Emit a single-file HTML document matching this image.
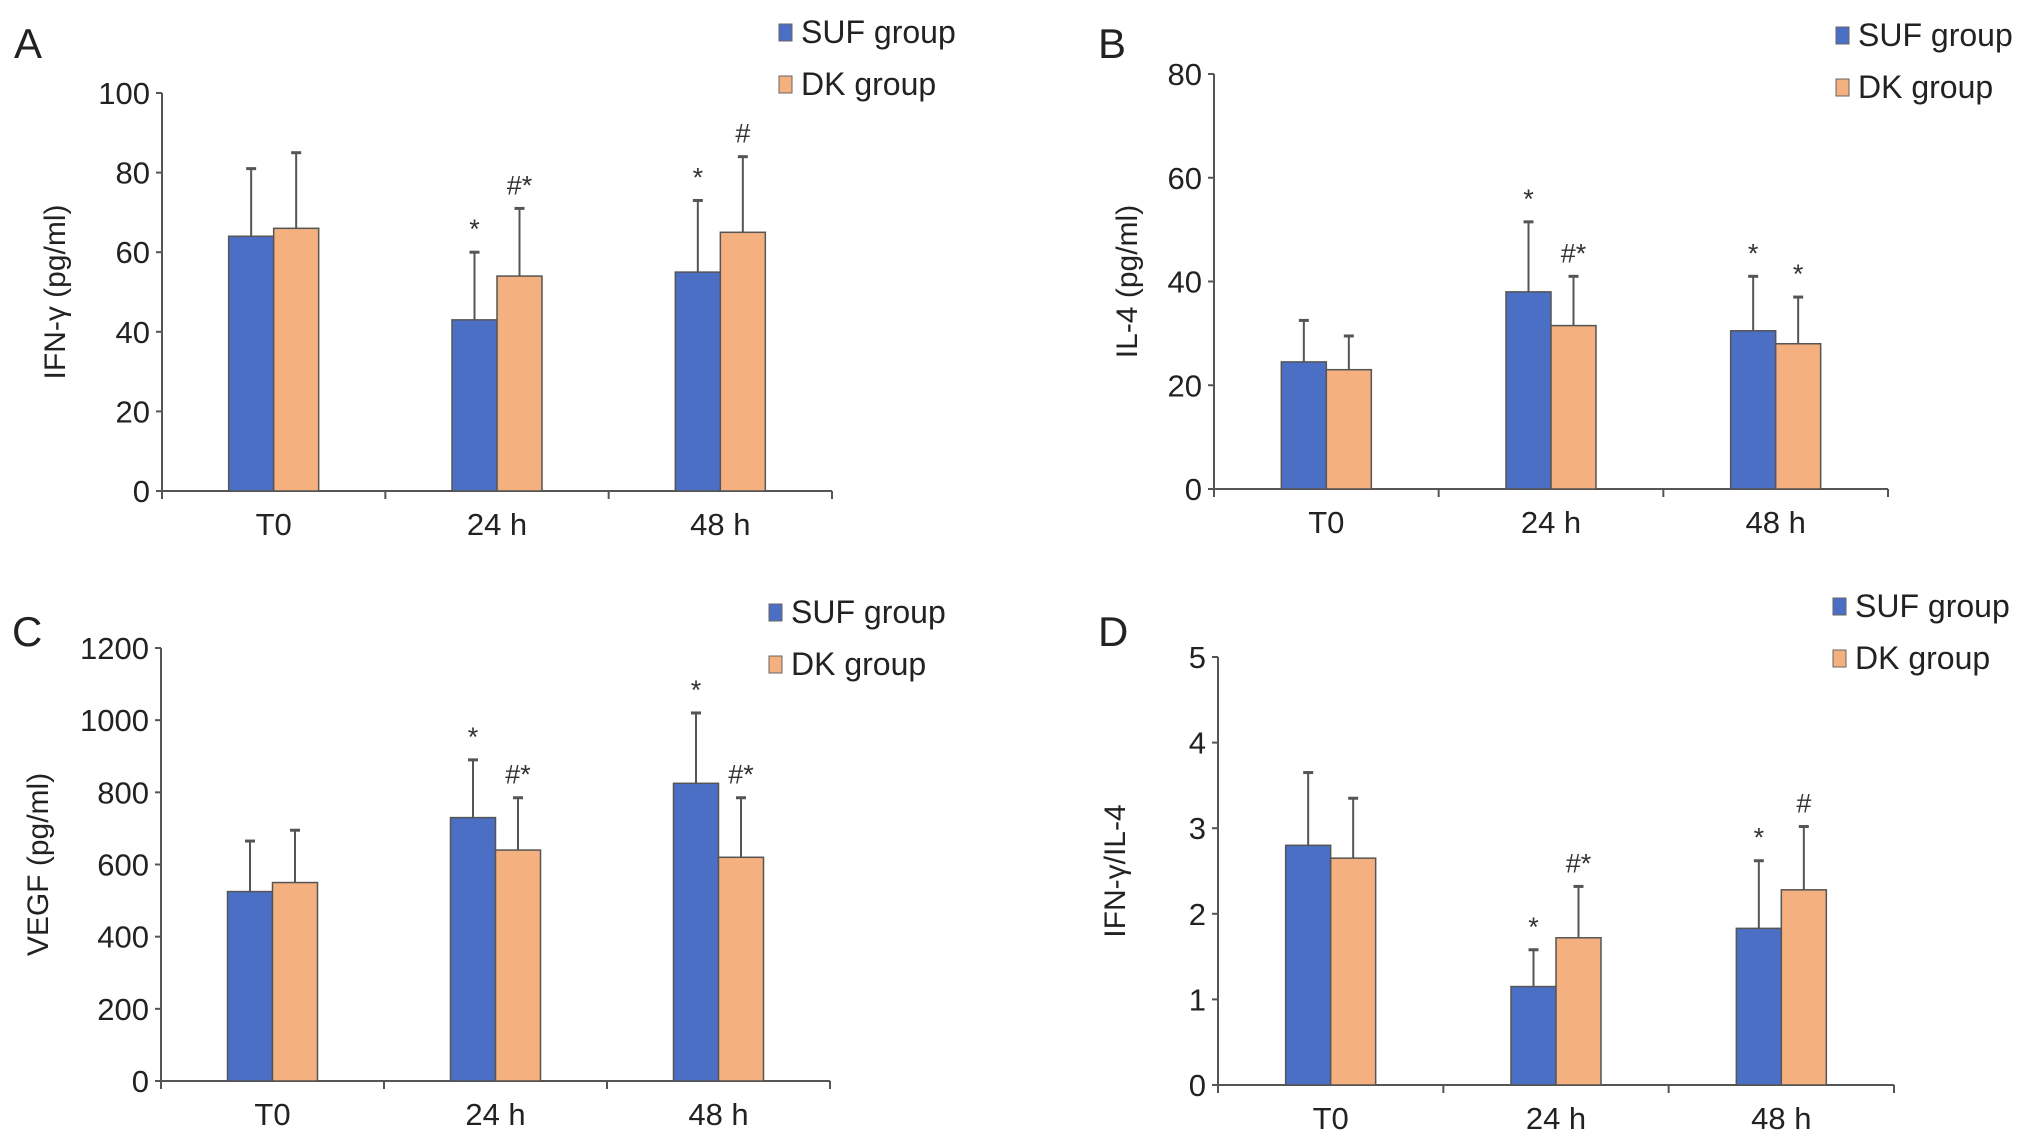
<!DOCTYPE html>
<html><head><meta charset="utf-8"><style>
body{margin:0;background:#fff}
svg{display:block;font-family:"Liberation Sans",sans-serif}
</style></head><body>
<svg id="fig" width="2032" height="1138" viewBox="0 0 2032 1138"></svg>
<script>
const categories = ["T0","24 h","48 h"];
const aSuf = [64,43,55], aDk = [66,54,65], aSufErr = [81,60,73], aDkErr = [85,71,84];
const aSufMark = ["","*","*"], aDkMark = ["","#*","#"];
const aTicks = [0,20,40,60,80,100];
const bSuf = [24.5,38,30.5], bDk = [23,31.5,28], bSufErr = [32.5,51.5,41], bDkErr = [29.5,41,37];
const bSufMark = ["","*","*"], bDkMark = ["","#*","*"];
const bTicks = [0,20,40,60,80];
const cSuf = [525,730,825], cDk = [550,640,620], cSufErr = [665,890,1020], cDkErr = [695,785,785];
const cSufMark = ["","*","*"], cDkMark = ["","#*","#*"];
const cTicks = [0,200,400,600,800,1000,1200];
const dSuf = [2.8,1.15,1.83], dDk = [2.65,1.72,2.28], dSufErr = [3.65,1.58,2.62], dDkErr = [3.35,2.32,3.02];
const dSufMark = ["","*","*"], dDkMark = ["","#*","#"];
const dTicks = [0,1,2,3,4,5];

const NS="http://www.w3.org/2000/svg";
const svg=document.getElementById('fig');
function mk(tag,attrs,parent,text){const e=document.createElementNS(NS,tag);for(const k in attrs)e.setAttribute(k,attrs[k]);if(text!==undefined)e.textContent=text;(parent||svg).appendChild(e);return e;}

const panels=[
 {id:"a",letter:"A",lx:14,ly:58,x0:162,x1:832,yTop:93,yBot:491,ticks:aTicks,title:"IFN-\u03b3 (pg/ml)",tx:55,legX:779,legY:32,suf:aSuf,dk:aDk,se:aSufErr,de:aDkErr,sm:aSufMark,dm:aDkMark},
 {id:"b",letter:"B",lx:1098,ly:58,x0:1214,x1:1888,yTop:74,yBot:489,ticks:bTicks,title:"IL-4 (pg/ml)",tx:1127,legX:1836,legY:35,suf:bSuf,dk:bDk,se:bSufErr,de:bDkErr,sm:bSufMark,dm:bDkMark},
 {id:"c",letter:"C",lx:12,ly:646,x0:161,x1:830,yTop:648,yBot:1081,ticks:cTicks,title:"VEGF (pg/ml)",tx:38,legX:769,legY:612,suf:cSuf,dk:cDk,se:cSufErr,de:cDkErr,sm:cSufMark,dm:cDkMark},
 {id:"d",letter:"D",lx:1098,ly:646,x0:1218,x1:1894,yTop:657,yBot:1085,ticks:dTicks,title:"IFN-\u03b3/IL-4",tx:1115,legX:1833,legY:606,suf:dSuf,dk:dDk,se:dSufErr,de:dDkErr,sm:dSufMark,dm:dDkMark}
];

panels.forEach(p=>{
 const g=mk('g',{});
 
 
 const max=p.ticks[p.ticks.length-1];
 const y=v=>p.yBot-(v/max)*(p.yBot-p.yTop);
 const gw=(p.x1-p.x0)/categories.length;
 const bw=45;
 const lab=mk('text',{x:p.lx,y:p.ly,'font-size':42,fill:'#222'},g,p.letter);
 
 
 const ya=mk('line',{x1:p.x0,y1:p.yTop,x2:p.x0,y2:p.yBot,stroke:'#555','stroke-width':2},g);
 
 
 p.ticks.forEach(t=>{
  mk('line',{x1:p.x0-6,y1:y(t),x2:p.x0,y2:y(t),stroke:'#555','stroke-width':2},g);
  const tl=mk('text',{x:p.x0-12,y:y(t)+11,'font-size':31,'text-anchor':'end',fill:'#222'},g,String(t));
  
  
 });
 const xa=mk('line',{x1:p.x0,y1:p.yBot,x2:p.x1,y2:p.yBot,stroke:'#555','stroke-width':2},g);
 
 
 for(let i=0;i<=categories.length;i++){mk('line',{x1:p.x0+i*gw,y1:p.yBot,x2:p.x0+i*gw,y2:p.yBot+8,stroke:'#555','stroke-width':2},g);}
 const ttl=mk('text',{x:p.tx,y:(p.yTop+p.yBot)/2,'font-size':30,'text-anchor':'middle',fill:'#222',transform:`rotate(-90 ${p.tx} ${(p.yTop+p.yBot)/2})`,dy:10},g,p.title);
 
 
 categories.forEach((c,i)=>{
  const cx=p.x0+gw*(i+0.5);
  const xl=mk('text',{x:cx,y:p.yBot+44,'font-size':31,'text-anchor':'middle',fill:'#222'},g,c);
  
  
  [[p.suf,p.se,p.sm,'#4a6fc4',cx-bw,'suf'],[p.dk,p.de,p.dm,'#f4b07f',cx,'dk']].forEach(([vals,errs,marks,col,bx,nm])=>{
   const r=mk('rect',{x:bx,y:y(vals[i]),width:bw,height:p.yBot-y(vals[i]),fill:col,stroke:'#555','stroke-width':1.5},g);
   
   
   const ex=bx+bw/2;
   const el=mk('line',{x1:ex,y1:y(vals[i]),x2:ex,y2:y(errs[i]),stroke:'#555','stroke-width':2},g);
   
   
   mk('line',{x1:ex-5,y1:y(errs[i]),x2:ex+5,y2:y(errs[i]),stroke:'#555','stroke-width':3},g);
   if(marks[i]){
    const m=mk('text',{x:ex,y:y(errs[i])-14,'font-size':27,'text-anchor':'middle',fill:'#333'},g,marks[i]);
    
    
   }
  });
 });
 [['SUF group','#4a6fc4',0],['DK group','#f4b07f',52]].forEach(([t,col,dy])=>{
  const sq=mk('rect',{x:p.legX,y:p.legY-8+dy,width:13,height:17,fill:col,stroke:'#666','stroke-width':1},g);
  
  
  const lt=mk('text',{x:p.legX+22,y:p.legY+11+dy,'font-size':32,fill:'#222'},g,t);
  
  
 });
});
</script>
</body></html>
